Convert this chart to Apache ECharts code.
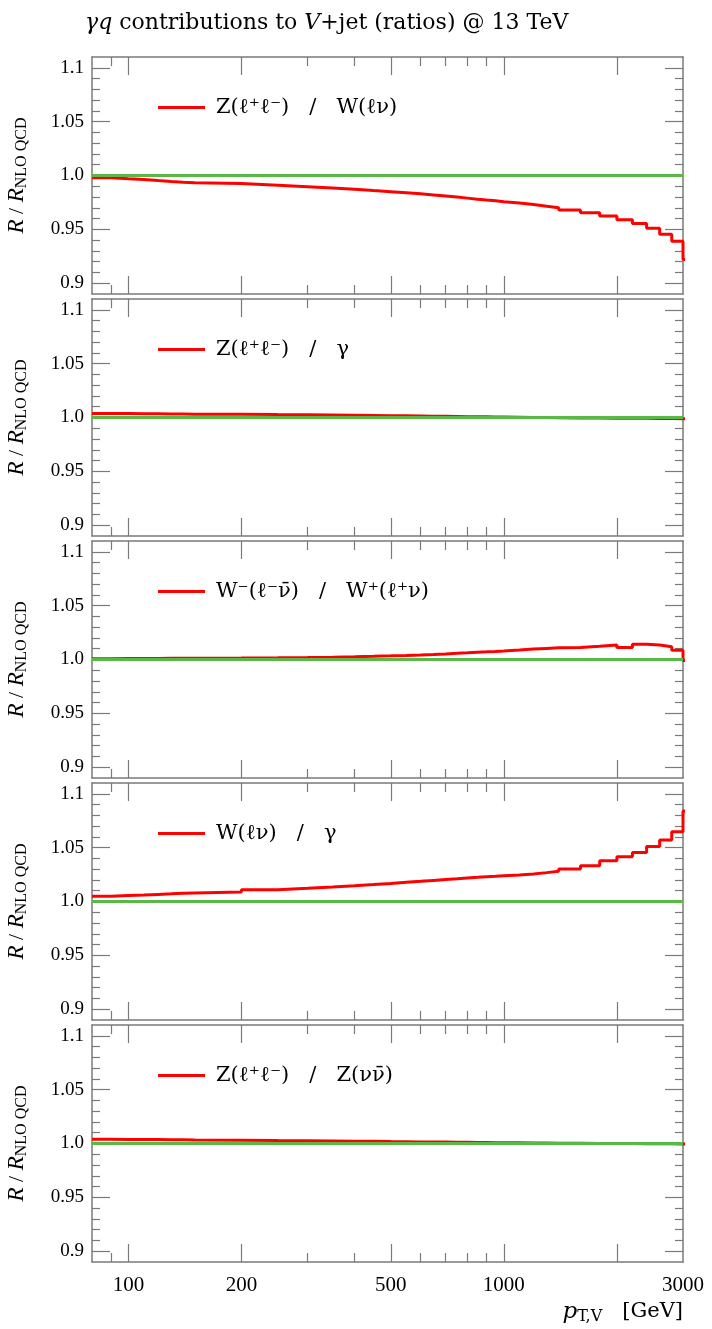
<!DOCTYPE html>
<html>
<head>
<meta charset="utf-8">
<script src="https://cdn.jsdelivr.net/npm/echarts@6/dist/echarts.min.js"></script>
<style>
html, body { margin: 0; padding: 0; background: #fff; }
#main { width: 712px; height: 1329px; }
</style>
</head>
<body>
<div id="main"></div>
<script>
// bin edges in pT,V [GeV]; the last bin (3000-3200) is only there for the closing edge
var binEdges = [80, 90, 100, 110, 120, 130, 140, 150, 200, 250, 300, 350, 400, 450, 500, 550, 600, 650, 700, 750,
  800, 850, 900, 950, 1000, 1100, 1200, 1300, 1400, 1600, 1800, 2000, 2200, 2400, 2600, 2800, 3000, 3200];

var ratioZW = [0.998, 0.997, 0.9962, 0.9953, 0.9945, 0.9938, 0.9932, 0.9925, 0.991, 0.9896, 0.9884, 0.9872, 0.986,
  0.985, 0.984, 0.983, 0.982, 0.981, 0.980, 0.979, 0.978, 0.9772, 0.9765, 0.9757, 0.9745, 0.973, 0.9715, 0.970,
  0.968, 0.9655, 0.9625, 0.959, 0.9555, 0.951, 0.9455, 0.939, 0.922];
var ratioZA = [1.0037, 1.0036, 1.0035, 1.0034, 1.0033, 1.0032, 1.0031, 1.003, 1.0027, 1.0025, 1.0023, 1.0021, 1.0019,
  1.0017, 1.0016, 1.0014, 1.0012, 1.0011, 1.001, 1.0008, 1.0007, 1.0006, 1.0005, 1.0004, 1.0002, 1.0, 0.9999, 0.9998,
  0.9996, 0.9995, 0.9994, 0.9993, 0.9992, 0.9991, 0.999, 0.9989, 0.9989];
var ratioWmWp = [1.0008, 1.0009, 1.001, 1.001, 1.0011, 1.0011, 1.0012, 1.0013, 1.0016, 1.0019, 1.0022, 1.0026, 1.003,
  1.0034, 1.0038, 1.0042, 1.0047, 1.0052, 1.0057, 1.0062, 1.0067, 1.0071, 1.0075, 1.0079, 1.0088, 1.0097, 1.0103,
  1.0108, 1.0112, 1.0122, 1.0135, 1.0112, 1.0142, 1.0135, 1.0118, 1.0085, 0.999];
var ratioWA = [1.0049, 1.0055, 1.006, 1.0066, 1.0071, 1.0076, 1.008, 1.0088, 1.0108, 1.0122, 1.0135, 1.0147, 1.0158,
  1.0168, 1.0178, 1.0187, 1.0196, 1.0204, 1.0211, 1.0218, 1.0224, 1.023, 1.0235, 1.024, 1.0246, 1.0256, 1.0268,
  1.028, 1.0302, 1.0333, 1.0379, 1.0416, 1.0456, 1.0511, 1.057, 1.0647, 1.084];
var ratioZZ = [1.0039, 1.0038, 1.0037, 1.0036, 1.0035, 1.0034, 1.0033, 1.0031, 1.0028, 1.0026, 1.0024, 1.0022, 1.002,
  1.0018, 1.0017, 1.0015, 1.0014, 1.0013, 1.0012, 1.0011, 1.001, 1.0009, 1.0008, 1.0007, 1.0006, 1.0005, 1.0004,
  1.0003, 1.0002, 1.0001, 1.0, 0.9999, 0.9998, 0.9997, 0.9997, 0.9996, 0.9996];

var panelNames = [
  'Z(ℓ⁺ℓ⁻)   /   W(ℓν)',
  'Z(ℓ⁺ℓ⁻)   /   γ',
  'W⁻(ℓ⁻ν\u0304)   /   W⁺(ℓ⁺ν)',
  'W(ℓν)   /   γ',
  'Z(ℓ⁺ℓ⁻)   /   Z(νν\u0304)'
];
var panelValues = [ratioZW, ratioZA, ratioWmWp, ratioWA, ratioZZ];
var referenceLine = [[80, 1.0], [3000, 1.0]];

var xLabelTicks = [100, 200, 500, 1000, 3000];
var xMajorTicks = [100, 200, 500, 1000, 2000];
var xMinorTicks = [90, 300, 400, 600, 700, 800, 900];
var yMajorTicks = [0.9, 0.95, 1.0, 1.05, 1.1];
var yMinorTicks = [0.91, 0.92, 0.93, 0.94, 0.96, 0.97, 0.98, 0.99, 1.01, 1.02, 1.03, 1.04, 1.06, 1.07, 1.08, 1.09];

var panelTops = [57, 299, 541, 783, 1025];
var panelHeight = 237;
var font = 'Liberation Serif';
var wideFont = 'DejaVu Serif';
var frameColor = '#7a7a7a';

var dom = document.getElementById('main');
var myChart = echarts.init(dom);

function stepData(vals) {
  var d = vals.map(function (v, i) { return [binEdges[i], v]; });
  d.push([binEdges[vals.length], vals[vals.length - 1]]);
  return d;
}

function makeX(g, pos, ticks, len, labels, line) {
  return {
    type: 'log', logBase: 10, gridIndex: g, position: pos, min: 80, max: 3000,
    axisLine: { show: line, onZero: false, lineStyle: { color: frameColor, width: 1.5 } },
    axisTick: { show: true, inside: true, length: len, customValues: ticks, lineStyle: { color: frameColor, width: 1.2 } },
    axisLabel: {
      show: labels, customValues: xLabelTicks, margin: 13, color: '#000', fontFamily: font, fontSize: 21,
      formatter: function (v) { return String(Math.round(v)); }
    },
    splitLine: { show: false }
  };
}

function makeY(g, pos, ticks, len, labels, line) {
  return {
    type: 'value', gridIndex: g, position: pos, min: 0.89, max: 1.11,
    axisLine: { show: line, lineStyle: { color: frameColor, width: 1.5 } },
    axisTick: { show: true, inside: true, length: len, customValues: ticks, lineStyle: { color: frameColor, width: 1.2 } },
    axisLabel: {
      show: labels, customValues: yMajorTicks, margin: 8, color: '#000', fontFamily: font, fontSize: 19,
      formatter: function (v) { return v === 1 ? '1.0' : String(v); }
    },
    splitLine: { show: false }
  };
}

var grids = [], xAxes = [], yAxes = [], series = [], legends = [], graphics = [];

panelTops.forEach(function (top, i) {
  var last = i === panelTops.length - 1;
  grids.push({ left: 92, width: 591, top: top, height: panelHeight });

  xAxes.push(makeX(i, 'bottom', xMajorTicks, 18, last, true));
  xAxes.push(makeX(i, 'bottom', xMinorTicks, 9, false, false));
  xAxes.push(makeX(i, 'top', xMajorTicks, 18, false, true));
  xAxes.push(makeX(i, 'top', xMinorTicks, 9, false, false));

  yAxes.push(makeY(i, 'left', yMajorTicks, 18, true, true));
  yAxes.push(makeY(i, 'left', yMinorTicks, 8, false, false));
  yAxes.push(makeY(i, 'right', yMajorTicks, 18, false, true));
  yAxes.push(makeY(i, 'right', yMinorTicks, 8, false, false));

  series.push({
    name: panelNames[i], type: 'line', step: 'end', xAxisIndex: i * 4, yAxisIndex: i * 4,
    data: stepData(panelValues[i]), showSymbol: false, symbol: 'none', clip: true,
    lineStyle: { color: '#ff0000', width: 3 }, itemStyle: { color: '#ff0000' }, z: 3
  });
  series.push({
    name: 'ref' + i, type: 'line', xAxisIndex: i * 4, yAxisIndex: i * 4,
    data: referenceLine, showSymbol: false, symbol: 'none',
    lineStyle: { color: '#5ab946', width: 3 }, z: 4
  });

  legends.push({
    data: [panelNames[i]], left: 153, top: top + 35, icon: 'rect', itemWidth: 47, itemHeight: 3,
    itemGap: 10, selectedMode: false,
    textStyle: { fontFamily: wideFont, fontSize: 21, color: '#000', padding: [0, 0, 0, 6] }
  });

  graphics.push({
    type: 'text', x: 17, y: top + panelHeight / 2, rotation: Math.PI / 2,
    style: {
      text: '{i|R} / {i|R}{s|NLO QCD}', align: 'center', verticalAlign: 'middle',
      font: '22px "' + font + '"', fill: '#000',
      rich: {
        i: { fontStyle: 'italic', fontFamily: font, fontSize: 23 },
        s: { fontFamily: font, fontSize: 16, padding: [10, 0, 0, 0] }
      }
    }
  });
});

graphics.push({
  type: 'text', x: 683, y: 1312,
  style: {
    text: '{i|p}{s|T,V}   [GeV]', align: 'right', verticalAlign: 'middle',
    font: '21px "' + wideFont + '"', fill: '#000',
    rich: {
      i: { fontStyle: 'italic', fontFamily: wideFont, fontSize: 23 },
      s: { fontFamily: wideFont, fontSize: 16, padding: [10, 0, 0, 0] }
    }
  }
});

var option = {
  animation: false,
  backgroundColor: '#fff',
  title: {
    text: '{i|γq} contributions to {i|V}+jet (ratios) @ 13 TeV',
    left: 80, top: 7,
    textStyle: {
      fontFamily: wideFont, fontSize: 22, fontWeight: 'normal', color: '#000',
      rich: { i: { fontStyle: 'italic', fontFamily: wideFont, fontSize: 22 } }
    }
  },
  grid: grids,
  xAxis: xAxes,
  yAxis: yAxes,
  legend: legends,
  series: series,
  graphic: graphics
};

myChart.setOption(option, true);
window.onresize = function () {
  myChart.resize();
};
</script>
</body>
</html>
